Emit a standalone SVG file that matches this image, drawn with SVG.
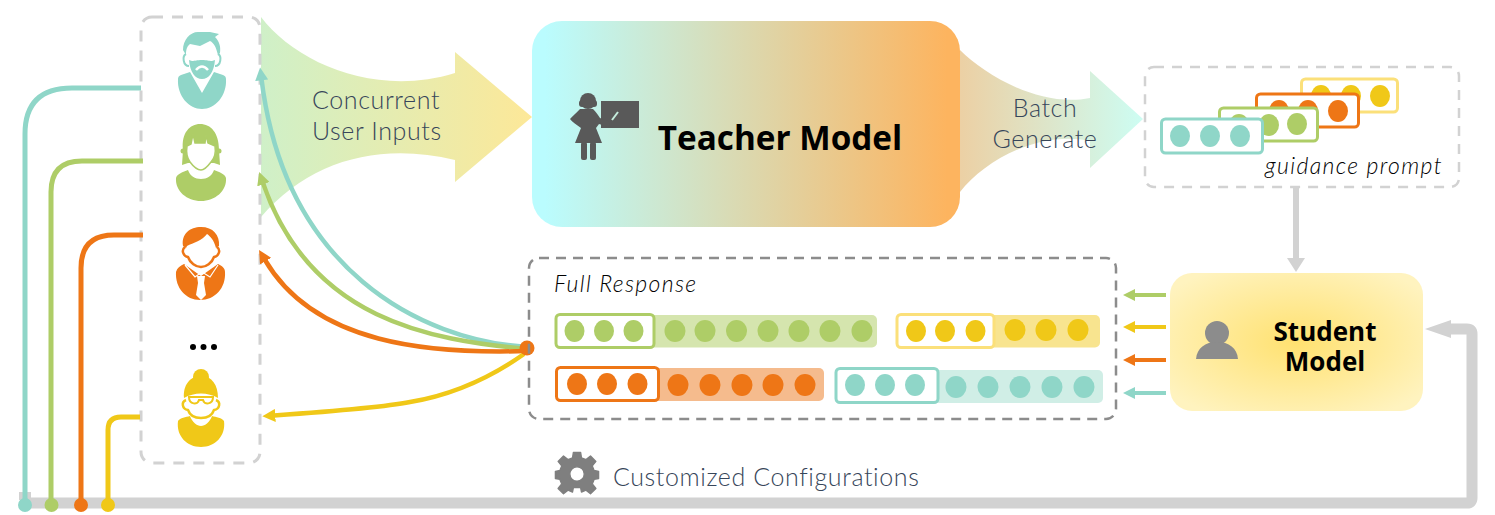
<svg xmlns="http://www.w3.org/2000/svg" width="1495" height="515" viewBox="0 0 1495 515">
<style>
.t{fill:#8fd6c8}.g{fill:#aecd67}.o{fill:#ee7616}.y{fill:#f0c818}
.sl{fill:none;stroke-linecap:butt}
.lt{font-family:Lato,"Open Sans",sans-serif;font-weight:300;fill:#37465a;font-size:25px;letter-spacing:.6px}
.it{font-family:Lato,"Open Sans",sans-serif;font-weight:300;font-style:italic;fill:#000;font-size:23px;letter-spacing:1.350px}
.b{font-family:"Open Sans","Noto Sans",sans-serif;font-weight:700;fill:#000;text-anchor:middle}
.pb{fill:#fff;stroke-width:3}
</style>
<defs>
<linearGradient id="a1" x1="261" x2="533" y1="0" y2="0" gradientUnits="userSpaceOnUse"><stop offset="0" stop-color="#cff0c8"/><stop offset="1" stop-color="#fde898"/></linearGradient>
<linearGradient id="a2" x1="960" x2="1143" y1="0" y2="0" gradientUnits="userSpaceOnUse"><stop offset="0" stop-color="#ecd0a4"/><stop offset="1" stop-color="#cdfdf3"/></linearGradient>
<linearGradient id="tm" x1="0" x2="1" y1="0" y2="0"><stop offset=".03" stop-color="#bafcfe"/><stop offset=".97" stop-color="#fdb45f"/></linearGradient>
<radialGradient id="sm" cx=".5" cy=".5" r=".62"><stop offset="0" stop-color="#ffe170"/><stop offset="1" stop-color="#fff3bf"/></radialGradient>
<marker id="mt" viewBox="0 0 10 10" refX="1" refY="5" markerWidth="13" markerHeight="13" markerUnits="userSpaceOnUse" orient="auto"><path d="M0 0L10 5L0 10Z" fill="#8fd6c8"/></marker>
<marker id="mg" viewBox="0 0 10 10" refX="1" refY="5" markerWidth="13" markerHeight="13" markerUnits="userSpaceOnUse" orient="auto"><path d="M0 0L10 5L0 10Z" fill="#aecd67"/></marker>
<marker id="mo" viewBox="0 0 10 10" refX="1" refY="5" markerWidth="13" markerHeight="13" markerUnits="userSpaceOnUse" orient="auto"><path d="M0 0L10 5L0 10Z" fill="#ee7616"/></marker>
<marker id="my" viewBox="0 0 10 10" refX="1" refY="5" markerWidth="13" markerHeight="13" markerUnits="userSpaceOnUse" orient="auto"><path d="M0 0L10 5L0 10Z" fill="#f0c818"/></marker>
</defs>

<g id="flow-arrow-inputs"><path d="M261 17C295 62 375 98 455 73V52L532 117L455 182V160C380 142 310 160 261 217Z" fill="url(#a1)"/>
<text class="lt" x="312" y="109">Concurrent</text><text class="lt" x="312" y="140">User Inputs</text></g>
<g id="flow-arrow-generate"><path d="M960 50C985 75 1040 108 1090 98V71L1143 119L1090 168V141C1040 130 985 160 960 192Z" fill="url(#a2)"/>
<text class="lt" x="1045" y="117" text-anchor="middle">Batch</text><text class="lt" x="1045" y="148" text-anchor="middle">Generate</text></g>

<g id="users-panel"><rect x="141" y="17" width="119" height="446" rx="11" fill="none" stroke="#d2d2d2" stroke-width="3" stroke-dasharray="11 9"/></g>

<g id="user-teal" class="t">
<path d="M178 79Q178 76 181 75L190 72L202 93L214 72L223 75Q226 76 226 79C227 96 215 109 202 109C189 109 177 96 178 79Z"/>
<path d="M183 50C183 40 190 32 198 32H210L219 34L215 37C219 41 221 46 220 53L218 55C216 47 214 43 210 41L200 46L190 44C186 47 186 52 186 55Z"/>
<path d="M189 60C190 72 195 79 202 79C209 79 214 72 215 60L212 61C209 61 207 60 202 60C197 60 195 61 192 61Z"/>
<path d="M186 54C182 56 183 66 189 66M218 54C222 56 221 66 215 66" fill="none" stroke="#8fd6c8" stroke-width="2"/>
<path d="M196 70Q202 63 208 70" fill="none" stroke="#fff" stroke-width="2.500"/>
</g>
<g id="user-green" class="g">
<path d="M176 178C177 174 183 172 188 170C190 176 195 179 201 179C207 179 212 176 214 170C219 172 225 174 226 178C227 191 215 201 201 201C187 201 175 191 176 178Z"/>
<path d="M183 150C181 133 190 124 200 124C211 124 219 133 219 150L220 165L214 163H188L182 165Z"/>
<circle cx="183" cy="151" r="2.500"/><circle cx="219" cy="151" r="2.500"/>
<path d="M187 146L191 144L193 134L195 143L205 143L206 135L208 143L215 146C216 153 215 158 211 162C208 166 204 170 201 170C197 170 193 166 190 162C187 158 186 153 187 146Z" fill="#fff" stroke="#aecd67" stroke-width="1.500"/>
</g>
<g id="user-orange" class="o">
<path d="M176 272C177 268 180 266 184 264L201 276L218 264C222 266 225 268 225 272C226 288 215 300 200 300C186 300 175 288 176 272Z"/>
<path d="M183 246C181 234 190 227 201 227C213 227 220 235 219 246L216 248C214 240 210 236 207 234C203 240 193 243 187 246L186 248Z"/>
<path d="M185 247C181 250 183 256 188 257C190 263 196 267 201 267C206 267 212 263 214 257C219 256 221 250 217 247" fill="none" stroke="#ee7616" stroke-width="2.500"/>
<path d="M185 265L195 277L202 272L210 277L218 265" fill="none" stroke="#fff" stroke-width="1.200"/>
<path d="M197 276H205L204 283L206 295L201 300L196 295L198 283Z" fill="#fff"/>
</g>
<g id="user-more"><circle cx="193" cy="347" r="3"/><circle cx="203.500" cy="347" r="3"/><circle cx="214" cy="347" r="3"/></g>
<g id="user-yellow" class="y">
<path d="M178 421C180 418 186 417 190 416C192 422 197 426 201 426C205 426 210 422 212 416C216 417 222 418 224 421C226 436 215 447 201 447C187 447 176 436 178 421Z"/>
<circle cx="201" cy="377" r="8"/>
<path d="M184 398C183 385 190 376 201 376C212 376 218 385 218 398C208 392 194 392 184 398Z"/>
<path d="M186 400C181 402 182 409 188 410C190 416 196 418 201 418C206 418 212 416 214 410C220 409 221 402 216 400" fill="none" stroke="#f0c818" stroke-width="2.500"/>
<path d="M188 397H214M189 397C189 405 198 405 199 400H203C204 405 213 405 213 397" fill="none" stroke="#f0c818" stroke-width="2"/>
</g>

<g id="connectors">
<path d="M22 503H1467Q1472 503 1472 498V334Q1472 329 1467 329H1445" fill="none" stroke="#d2d2d2" stroke-width="11"/>
<path d="M19 492H31V500H19Z" fill="#d2d2d2"/>
<path d="M1425 329L1451 320V338Z" fill="#d2d2d2"/>
<path d="M1296 187V258" fill="none" stroke="#d2d2d2" stroke-width="6"/><path d="M1287 258H1305L1296 272Z" fill="#d2d2d2"/>
<path class="sl" d="M25 504V134Q25 88 72 88H141" stroke="#8fd6c8" stroke-width="5"/>
<path class="sl" d="M51 504V192Q51 161 82 161H143" stroke="#aecd67" stroke-width="5"/>
<path class="sl" d="M81 504V268Q81 235 114 235H143" stroke="#ee7616" stroke-width="5"/>
<path class="sl" d="M108 504V430Q108 417 121 417H140" stroke="#f0c818" stroke-width="5"/>
<circle cx="25" cy="505" r="7" class="t"/><circle cx="51.500" cy="505" r="7" class="g"/><circle cx="81" cy="505" r="7" class="o"/><circle cx="108" cy="505" r="7" class="y"/>
<path class="sl" d="M527 347C420 340 285 270 261.500 79" stroke="#8fd6c8" stroke-width="4.500" marker-end="url(#mt)"/>
<path class="sl" d="M527 349C430 340 310 320 263 183" stroke="#aecd67" stroke-width="4.500" marker-end="url(#mg)"/>
<path class="sl" d="M527 351C430 354 315 345 265 260" stroke="#ee7616" stroke-width="4.500" marker-end="url(#mo)"/>
<path class="sl" d="M524 354Q470 392 410 402Q380 408 274 415.500" stroke="#f0c818" stroke-width="4.500" marker-end="url(#my)"/>
<circle cx="527" cy="348" r="7.500" class="o"/>
<path class="sl" d="M1166 295H1134" stroke="#aecd67" stroke-width="4"/><path d="M1123 295L1135 289V301Z" class="g"/>
<path class="sl" d="M1166 327H1134" stroke="#f0c818" stroke-width="4"/><path d="M1123 327L1135 321V333Z" class="y"/>
<path class="sl" d="M1166 360H1134" stroke="#ee7616" stroke-width="4"/><path d="M1123 360L1135 354V366Z" class="o"/>
<path class="sl" d="M1166 393H1134" stroke="#8fd6c8" stroke-width="4"/><path d="M1123 393L1135 387V399Z" class="t"/>
</g>

<g id="teacher-model"><rect x="532" y="21" width="428" height="206" rx="30" fill="url(#tm)"/>
<g fill="#595959"><rect x="601" y="101" width="38" height="27"/>
<circle cx="588" cy="101" r="8"/><rect x="579" y="100" width="18" height="7" rx="3"/>
<path d="M580 109H593C596 112 598 115 600 118L610 122L609 127L599 124L596 128L602 143H575L581 128C577 125 572 122 570 119C573 116 577 112 580 109Z"/>
<rect x="581" y="142" width="6" height="18" rx="2"/><rect x="590" y="142" width="6" height="18" rx="2"/>
<path d="M612 120L618 112" stroke="#c4ecdc" stroke-width="2"/></g>
<text class="b" x="780" y="150" font-size="33.300">Teacher Model</text></g>

<g id="guidance-prompt"><rect x="1145" y="67" width="314" height="120" rx="9" fill="none" stroke="#d2d2d2" stroke-width="2.500" stroke-dasharray="10 8"/>
<rect class="pb" x="1301.500" y="79" width="96" height="33" rx="4" stroke="#fbe07a"/><ellipse cx="1321" cy="96" rx="10" ry="11" class="y"/><ellipse cx="1351" cy="96" rx="10" ry="11" class="y"/><ellipse cx="1380" cy="96" rx="10" ry="11" class="y"/>
<rect class="pb" x="1256.500" y="94" width="102" height="33" rx="4" stroke="#ee7616"/><ellipse cx="1279" cy="111" rx="10" ry="11" class="o"/><ellipse cx="1308" cy="111" rx="10" ry="11" class="o"/><ellipse cx="1338" cy="111" rx="10" ry="11" class="o"/>
<rect class="pb" x="1219.500" y="108" width="98" height="33" rx="4" stroke="#aecd67"/><ellipse cx="1239" cy="125" rx="10" ry="11" class="g"/><ellipse cx="1269" cy="125" rx="10" ry="11" class="g"/><ellipse cx="1297" cy="124" rx="10" ry="11" class="g"/>
<rect class="pb" x="1161.500" y="119" width="101" height="34" rx="4" stroke="#8fd6c8"/><ellipse cx="1180" cy="136" rx="10" ry="11" class="t"/><ellipse cx="1210" cy="136" rx="10" ry="11" class="t"/><ellipse cx="1240" cy="136" rx="10" ry="11" class="t"/>
<text class="it" x="1265" y="174">guidance prompt</text></g>

<g id="full-response"><rect x="529" y="258" width="587" height="161" rx="10" fill="none" stroke="#8c8c8c" stroke-width="2.500" stroke-dasharray="10 7"/>
<text class="it" x="554" y="292">Full Response</text>
<rect x="620" y="315" width="257" height="32.500" rx="5" fill="#d5e5ae"/><rect class="pb" x="556" y="314.500" width="98" height="33" rx="4" stroke="#aecd67"/>
<g class="g"><ellipse cx="574.500" cy="331" rx="10" ry="11"/><ellipse cx="604" cy="331" rx="10" ry="11"/><ellipse cx="633.500" cy="331" rx="10" ry="11"/><ellipse cx="675" cy="331" rx="10.500" ry="11"/><ellipse cx="705" cy="331" rx="10.500" ry="11"/><ellipse cx="736.500" cy="331" rx="10.500" ry="11"/><ellipse cx="768" cy="331" rx="10.500" ry="11"/><ellipse cx="799" cy="331" rx="10.500" ry="11"/><ellipse cx="830" cy="331" rx="10.500" ry="11"/><ellipse cx="862" cy="331" rx="10.500" ry="11"/></g>
<rect x="960" y="315" width="140" height="32.500" rx="5" fill="#f8e48f"/><rect class="pb" x="897" y="314.500" width="97" height="33" rx="4" stroke="#fbe07a"/>
<g class="y"><ellipse cx="916" cy="331" rx="10" ry="11"/><ellipse cx="945" cy="331" rx="10" ry="11"/><ellipse cx="975.500" cy="331" rx="10" ry="11"/><ellipse cx="1015" cy="330" rx="10.500" ry="11"/><ellipse cx="1046" cy="330" rx="10.500" ry="11"/><ellipse cx="1078" cy="330" rx="10.500" ry="11"/></g>
<rect x="620" y="368" width="204" height="33" rx="5" fill="#f5bb8d"/><rect class="pb" x="556.500" y="367.500" width="102" height="33" rx="4" stroke="#ee7616"/>
<g class="o"><ellipse cx="577" cy="384" rx="10" ry="11"/><ellipse cx="607" cy="384" rx="10" ry="11"/><ellipse cx="637.500" cy="384" rx="10" ry="11"/><ellipse cx="678" cy="385" rx="10.500" ry="11"/><ellipse cx="710" cy="385" rx="10.500" ry="11"/><ellipse cx="742" cy="385" rx="10.500" ry="11"/><ellipse cx="773" cy="385" rx="10.500" ry="11"/><ellipse cx="805" cy="385" rx="10.500" ry="11"/></g>
<rect x="900" y="370" width="203" height="33" rx="5" fill="#d0eee6"/><rect class="pb" x="836" y="368.500" width="102" height="34" rx="4" stroke="#8fd6c8"/>
<g class="t"><ellipse cx="855" cy="385" rx="10" ry="11"/><ellipse cx="885" cy="385" rx="10" ry="11"/><ellipse cx="915" cy="385" rx="10" ry="11"/><ellipse cx="956" cy="387" rx="10.500" ry="11"/><ellipse cx="988" cy="387" rx="10.500" ry="11"/><ellipse cx="1020" cy="387" rx="10.500" ry="11"/><ellipse cx="1052" cy="387" rx="10.500" ry="11"/><ellipse cx="1084" cy="387" rx="10.500" ry="11"/></g>
</g>

<g id="student-model"><rect x="1170" y="273" width="253" height="138" rx="22" fill="url(#sm)"/>
<g fill="#8c8c8c"><circle cx="1217" cy="333" r="12"/><path d="M1196 359C1197 348 1205 342 1217 342C1229 342 1237 348 1238 359Z"/></g>
<text class="b" font-size="26"><tspan x="1325" y="341">Student</tspan><tspan x="1325" y="371">Model</tspan></text></g>

<g id="customized-configurations">
<path transform="translate(577 474) scale(.9) translate(-577 -479)" fill="#7f7f7f" stroke="#7f7f7f" stroke-width="1.500" stroke-linejoin="round" fill-rule="evenodd" d="M573 455H581L582 461L587 463L592 459L598 465L594 470L596 475L601 476V484L596 485L594 490L598 495L592 501L587 497L582 499L581 494H573L572 499L567 497L562 501L556 495L560 490L558 485L553 484V476L558 475L560 470L556 465L562 459L567 463L572 461ZM577 471A8 8 0 1 0 577.100 487A8 8 0 1 0 577 471Z"/>
<text class="lt" x="613" y="486">Customized Configurations</text></g>
</svg>
